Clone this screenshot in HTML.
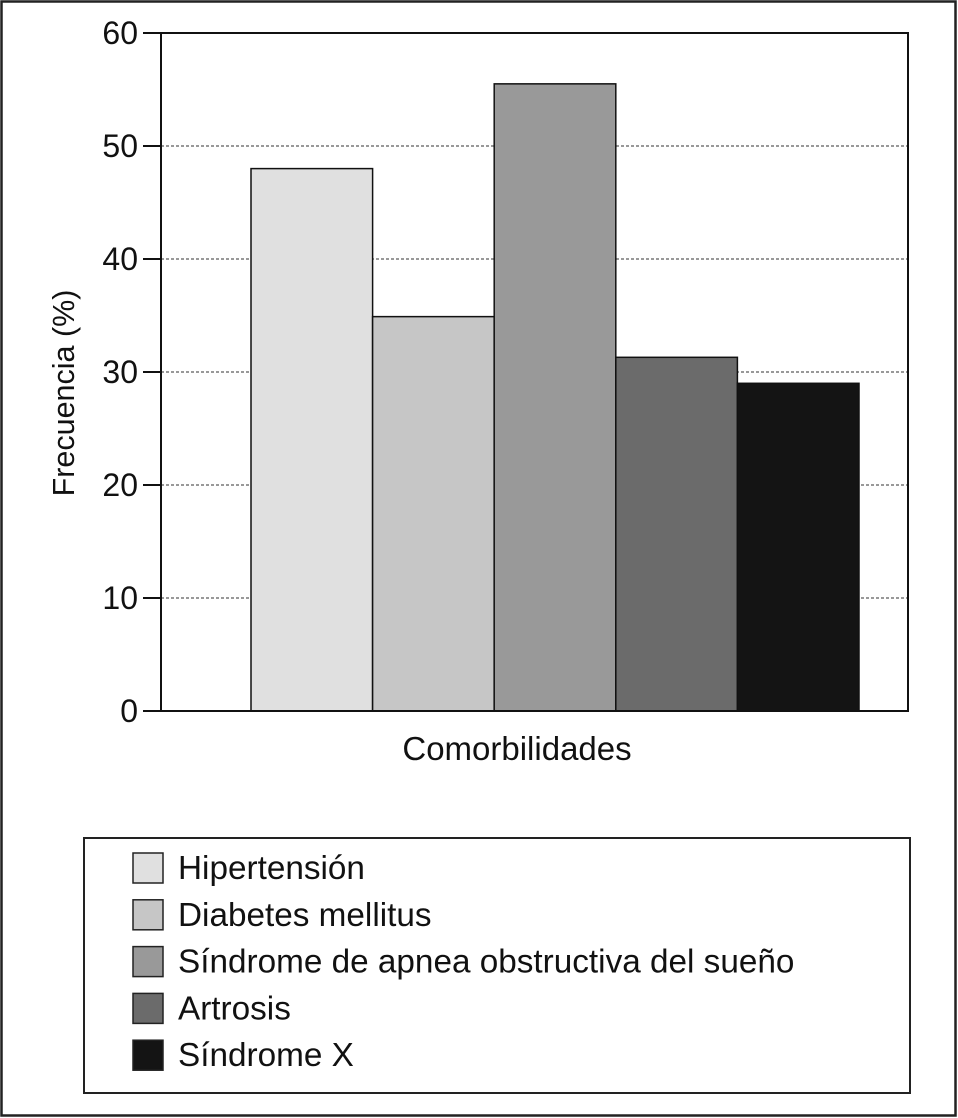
<!DOCTYPE html>
<html><head><meta charset="utf-8"><style>
html,body{margin:0;padding:0;background:#fff}
svg{display:block;font-family:"Liberation Sans",Arial,sans-serif}
</style></head><body>
<svg width="958" height="1118" viewBox="0 0 958 1118">
<rect x="1.5" y="1.5" width="954" height="1114" fill="#fff" stroke="#222" stroke-width="2.5"/>
<g id="grid"></g>
<g id="bars"></g>
<rect x="161" y="33" width="747" height="678" fill="none" stroke="#111" stroke-width="2"/>
<g id="yaxis"></g>
<text x="517" y="760" font-size="33" text-anchor="middle" fill="#111">Comorbilidades</text>
<text transform="translate(74,393) rotate(-90)" font-size="30.5" text-anchor="middle" fill="#111">Frecuencia (%)</text>
<rect x="84" y="838" width="826" height="255" fill="#fff" stroke="#222" stroke-width="2"/>
<g id="legend"></g>
</svg>
<script>
const categories = ["Hipertensión","Diabetes mellitus","Síndrome de apnea obstructiva del sueño","Artrosis","Síndrome X"];
const values = [48, 34.9, 55.5, 31.3, 29];
const colors = ["#e0e0e0","#c6c6c6","#999999","#6b6b6b","#141414"];
const yTicks = [0,10,20,30,40,50,60];
const NS="http://www.w3.org/2000/svg";
const y0=711, yTop=33, yMax=60;
function yScale(v){return y0-(v/yMax)*(y0-yTop);}
const barLeft=251, barW=121.6;
function xScale(i){return barLeft+i*barW;}
function mk(tag,attrs){const e=document.createElementNS(NS,tag);for(const k in attrs)e.setAttribute(k,attrs[k]);return e;}
const grid=document.getElementById('grid'), yaxis=document.getElementById('yaxis'), bars=document.getElementById('bars'), legend=document.getElementById('legend');
yTicks.forEach(t=>{
  const y=yScale(t);
  if(t>0&&t<yMax){const g=mk('line',{x1:161,x2:908,y1:y,y2:y,stroke:'#333','stroke-width':1,'stroke-dasharray':'3,2'});
  
  
  grid.appendChild(g);}
  const tk=mk('line',{x1:143,x2:161,y1:y,y2:y,stroke:'#111','stroke-width':2});
  
  
  yaxis.appendChild(tk);
  const tx=mk('text',{x:138,y:y+11,'font-size':32,'text-anchor':'end',fill:'#111'});
  tx.textContent=t;
  
  
  yaxis.appendChild(tx);
});
values.forEach((v,i)=>{
  const r=mk('rect',{x:xScale(i),y:yScale(v),width:barW,height:y0-yScale(v),fill:colors[i],stroke:'#111','stroke-width':1.5});
  
  
  bars.appendChild(r);
});
categories.forEach((c,i)=>{
  const cy=868+i*46.8;
  const s=mk('rect',{x:133,y:cy-15,width:30,height:30,fill:colors[i],stroke:'#222','stroke-width':1.5});
  
  
  legend.appendChild(s);
  const t=mk('text',{x:178,y:cy+11,'font-size':33.3,fill:'#111'});
  t.textContent=c;
  
  
  legend.appendChild(t);
});
</script>
</body></html>
